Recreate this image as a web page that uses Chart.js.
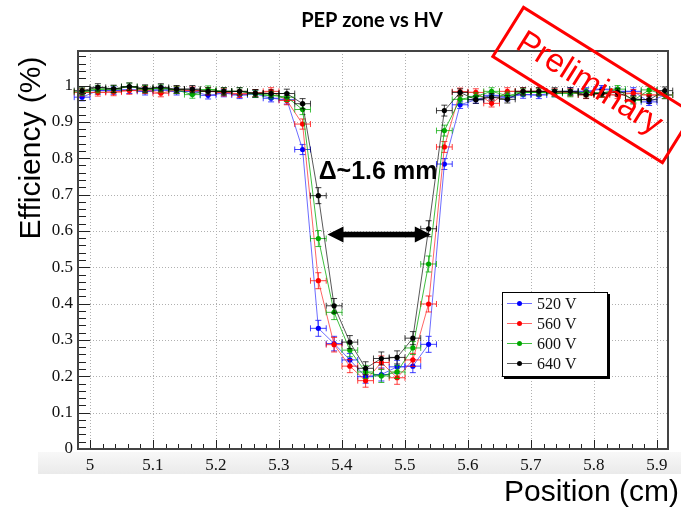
<!DOCTYPE html>
<html>
<head>
<meta charset="utf-8">
<script src="https://cdn.jsdelivr.net/npm/chart.js@4/dist/chart.umd.min.js"></script>
<style>
  html, body { margin: 0; padding: 0; background: #fff; }
  #wrap { width: 681px; height: 508px; }
</style>
</head>
<body>
<div id="wrap"><canvas id="c" width="681" height="508"></canvas></div>
<script>
// Bin centres along the strip (cm), bins are 0.025 cm wide
const positions = [4.9875, 5.0125, 5.0375, 5.0625, 5.0875, 5.1125, 5.1375, 5.1625, 5.1875, 5.2125,
  5.2375, 5.2625, 5.2875, 5.3125, 5.3375, 5.3625, 5.3875, 5.4125, 5.4375, 5.4625,
  5.4875, 5.5125, 5.5375, 5.5625, 5.5875, 5.6125, 5.6375, 5.6625, 5.6875, 5.7125,
  5.7375, 5.7625, 5.7875, 5.8125, 5.8375, 5.8625, 5.8875, 5.9125];
const binHalfWidth = 0.0125;

// Efficiency per bin for each HV setting
const eff520 = [0.968, 0.986, 0.986, 0.988, 0.984, 0.988, 0.984, 0.984, 0.973, 0.979,
  0.974, 0.977, 0.965, 0.961, 0.824, 0.332, 0.290, 0.245, 0.199, 0.205,
  0.226, 0.228, 0.288, 0.784, 0.947, 0.961, 0.973, 0.968, 0.975, 0.974,
  0.979, 0.984, 0.984, 0.990, 0.984, 0.984, 0.955, 0.974];
const eff560 = [0.981, 0.981, 0.982, 0.986, 0.988, 0.979, 0.988, 0.986, 0.984, 0.981,
  0.977, 0.979, 0.984, 0.959, 0.894, 0.463, 0.287, 0.228, 0.188, 0.238,
  0.196, 0.245, 0.399, 0.831, 0.983, 0.981, 0.951, 0.984, 0.984, 0.984,
  0.981, 0.981, 0.974, 0.977, 0.974, 0.979, 0.974, 0.974];
const eff600 = [0.983, 0.990, 0.990, 0.997, 0.990, 0.992, 0.988, 0.975, 0.989, 0.984,
  0.984, 0.977, 0.973, 0.968, 0.934, 0.579, 0.376, 0.272, 0.212, 0.201,
  0.212, 0.278, 0.509, 0.876, 0.962, 0.970, 0.984, 0.972, 0.981, 0.981,
  0.979, 0.979, 0.981, 0.979, 0.990, 0.959, 0.988, 0.974];
const eff640 = [0.986, 0.995, 0.991, 0.997, 0.992, 0.995, 0.990, 0.990, 0.984, 0.984,
  0.984, 0.979, 0.978, 0.978, 0.950, 0.697, 0.394, 0.294, 0.222, 0.249,
  0.252, 0.305, 0.606, 0.931, 0.981, 0.961, 0.968, 0.962, 0.984, 0.984,
  0.984, 0.984, 0.975, 0.979, 0.981, 0.962, 0.961, 0.986];

// Statistical uncertainty on the efficiency, per bin
const effErr = [0.010, 0.010, 0.010, 0.010, 0.010, 0.010, 0.010, 0.010, 0.010, 0.010,
  0.010, 0.010, 0.010, 0.012, 0.014, 0.022, 0.020, 0.018, 0.018, 0.018,
  0.018, 0.018, 0.022, 0.015, 0.010, 0.010, 0.010, 0.010, 0.010, 0.010,
  0.010, 0.010, 0.010, 0.010, 0.010, 0.010, 0.010, 0.010];

const seriesLabels = ['520 V', '560 V', '600 V', '640 V'];
const seriesColors = ['#0000ff', '#ff0000', '#00a800', '#000000'];
const lineColors = ['rgba(60,60,255,0.75)', 'rgba(255,50,50,0.75)', 'rgba(0,170,0,0.75)', 'rgba(0,0,0,0.65)'];
const seriesValues = [eff520, eff560, eff600, eff640];

// Axis ticks
const xTickValues = [5.0, 5.1, 5.2, 5.3, 5.4, 5.5, 5.6, 5.7, 5.8, 5.9];
const xTickLabels = ['5', '5.1', '5.2', '5.3', '5.4', '5.5', '5.6', '5.7', '5.8', '5.9'];
const yTickValues = [0, 0.1, 0.2, 0.3, 0.4, 0.5, 0.6, 0.7, 0.8, 0.9, 1.0];
const yTickLabels = ['0', '0.1', '0.2', '0.3', '0.4', '0.5', '0.6', '0.7', '0.8', '0.9', '1'];

// Width marker between the 50%-ish edges
const arrowFrom = 5.377;
const arrowTo = 5.541;
const arrowLevel = 0.59;
const widthLabel = 'Δ~1.6 mm';

const datasets = seriesValues.map((vals, k) => ({
  label: seriesLabels[k],
  data: positions.map((x, i) => ({ x: x, y: vals[i] })),
  borderColor: lineColors[k],
  backgroundColor: seriesColors[k],
  pointBackgroundColor: seriesColors[k],
  pointBorderColor: seriesColors[k],
  pointBorderWidth: 0,
  pointRadius: 2.6,
  borderWidth: 1,
  tension: 0,
  fill: false,
  errColor: seriesColors[k],
  order: 4 - k
}));

function drawErrorBars(chart, idx) {
  const ds = chart.data.datasets[idx];
  const xs = chart.scales.x, ys = chart.scales.y;
  const ctx = chart.ctx;
  ctx.save();
  ctx.strokeStyle = ds.errColor;
  ctx.globalAlpha = 0.75;
  ctx.lineWidth = 1;
  ctx.beginPath();
  ds.data.forEach((p, i) => {
    const px = xs.getPixelForValue(p.x), py = ys.getPixelForValue(p.y);
    const x0 = xs.getPixelForValue(p.x - binHalfWidth), x1 = xs.getPixelForValue(p.x + binHalfWidth);
    const y0 = ys.getPixelForValue(p.y - effErr[i]), y1 = ys.getPixelForValue(p.y + effErr[i]);
    ctx.moveTo(x0, py); ctx.lineTo(x1, py);
    ctx.moveTo(x0, py - 3); ctx.lineTo(x0, py + 3);
    ctx.moveTo(x1, py - 3); ctx.lineTo(x1, py + 3);
    ctx.moveTo(px, y0); ctx.lineTo(px, y1);
    ctx.moveTo(px - 3, y0); ctx.lineTo(px + 3, y0);
    ctx.moveTo(px - 3, y1); ctx.lineTo(px + 3, y1);
  });
  ctx.stroke();
  ctx.restore();
}

const decor = {
  id: 'decor',
  beforeDraw(chart) {
    const ctx = chart.ctx;
    ctx.save();
    ctx.fillStyle = '#ffffff';
    ctx.fillRect(0, 0, chart.width, chart.height);
    // soft grey band behind the x tick labels
    const g = ctx.createLinearGradient(0, 452, 0, 474);
    g.addColorStop(0, 'rgba(248,248,248,1)');
    g.addColorStop(1, 'rgba(234,234,234,1)');
    ctx.fillStyle = g;
    ctx.fillRect(38, 452, chart.width - 38, 22);
    ctx.restore();
  },
  beforeDatasetsDraw(chart) {
    const ctx = chart.ctx, a = chart.chartArea;
    const xs = chart.scales.x, ys = chart.scales.y;
    ctx.save();
    ctx.strokeStyle = '#b0b0b0';
    ctx.lineWidth = 1;
    ctx.setLineDash([1, 2]);
    ctx.beginPath();
    xTickValues.forEach(v => {
      const px = Math.round(xs.getPixelForValue(v)) + 0.5;
      ctx.moveTo(px, a.top); ctx.lineTo(px, a.bottom);
    });
    yTickValues.forEach(v => {
      if (v === 0) return;
      const py = Math.round(ys.getPixelForValue(v)) + 0.5;
      ctx.moveTo(a.left, py); ctx.lineTo(a.right, py);
    });
    ctx.stroke();
    ctx.restore();
  },
  beforeDatasetDraw(chart, args) {
    drawErrorBars(chart, args.index);
  },
  afterDatasetsDraw(chart) {
    const ctx = chart.ctx, a = chart.chartArea;
    const xs = chart.scales.x, ys = chart.scales.y;
    ctx.save();
    // axis ticks, drawn inward
    ctx.strokeStyle = '#222';
    ctx.lineWidth = 1;
    ctx.beginPath();
    for (let k = 0; k <= 54; k++) {
      const v = k * 0.02;
      if (v > ys.max) break;
      const py = Math.round(ys.getPixelForValue(v)) + 0.5;
      const len = (k % 5 === 0) ? 12 : 8;
      ctx.moveTo(a.left, py); ctx.lineTo(a.left + len, py);
    }
    for (let k = 249; k <= 296; k++) {
      const v = k * 0.02;
      if (v < xs.min || v > xs.max) continue;
      const px = Math.round(xs.getPixelForValue(v)) + 0.5;
      const len = (k % 5 === 0) ? 9 : 5;
      ctx.moveTo(px, a.bottom); ctx.lineTo(px, a.bottom - len);
    }
    ctx.stroke();
    // frame
    ctx.strokeStyle = '#444';
    ctx.lineWidth = 2;
    ctx.strokeRect(a.left, a.top, a.right - a.left, a.bottom - a.top);

    // double-headed width arrow
    const xa = xs.getPixelForValue(arrowFrom), xb = xs.getPixelForValue(arrowTo);
    const ya = ys.getPixelForValue(arrowLevel);
    ctx.fillStyle = '#000';
    ctx.fillRect(xa + 12, ya - 2.8, xb - xa - 24, 5.6);
    ctx.beginPath();
    ctx.moveTo(xa, ya); ctx.lineTo(xa + 16, ya - 8); ctx.lineTo(xa + 16, ya + 8); ctx.closePath();
    ctx.moveTo(xb, ya); ctx.lineTo(xb - 16, ya - 8); ctx.lineTo(xb - 16, ya + 8); ctx.closePath();
    ctx.fill();
    ctx.font = 'bold 25px "Liberation Sans", Arial, sans-serif';
    ctx.textAlign = 'center';
    ctx.textBaseline = 'alphabetic';
    ctx.fillText(widthLabel, 378, 179);
    ctx.restore();
  },
  afterDraw(chart) {
    const ctx = chart.ctx;
    ctx.save();
    // title
    ctx.fillStyle = '#000';
    ctx.font = 'bold 20px Lato, "Open Sans", sans-serif';
    ctx.textAlign = 'center';
    ctx.textBaseline = 'alphabetic';
    ctx.fillText('PEP zone vs HV', 372, 27);

    // axis titles
    ctx.font = '30px "Liberation Sans", Arial, sans-serif';
    ctx.textAlign = 'right';
    ctx.fillText('Position (cm)', 679, 501);
    ctx.save();
    ctx.translate(40, 148);
    ctx.rotate(-Math.PI / 2);
    ctx.textAlign = 'center';
    ctx.fillText('Efficiency (%)', 0, 0);
    ctx.restore();

    // legend box
    const lx = 502, ly = 292, lw = 105, lh = 84;
    ctx.fillStyle = '#000';
    ctx.fillRect(lx + 2, ly + 2, lw + 1, lh + 1);
    ctx.fillStyle = '#fff';
    ctx.fillRect(lx, ly, lw, lh);
    ctx.strokeStyle = '#000';
    ctx.lineWidth = 1;
    ctx.strokeRect(lx + 0.5, ly + 0.5, lw, lh);
    ctx.font = '16px "Liberation Serif", "Times New Roman", serif';
    ctx.textAlign = 'left';
    ctx.textBaseline = 'middle';
    seriesLabels.forEach((lab, k) => {
      const ry = ly + 11.5 + 20 * k;
      ctx.strokeStyle = lineColors[k];
      ctx.beginPath();
      ctx.moveTo(lx + 5, ry); ctx.lineTo(lx + 30, ry);
      ctx.stroke();
      ctx.fillStyle = seriesColors[k];
      ctx.beginPath();
      ctx.arc(lx + 17.5, ry, 2.5, 0, Math.PI * 2);
      ctx.fill();
      ctx.fillStyle = '#111';
      ctx.fillText(lab, lx + 35, ry + 1);
    });

    // "Preliminary" stamp
    ctx.save();
    ctx.translate(593, 85);
    ctx.rotate(32 * Math.PI / 180);
    ctx.strokeStyle = '#ff0000';
    ctx.lineWidth = 3;
    ctx.strokeRect(-100, -29, 200, 58);
    ctx.fillStyle = '#ff0000';
    ctx.font = '33px "Liberation Sans", Arial, sans-serif';
    ctx.textAlign = 'center';
    ctx.textBaseline = 'middle';
    ctx.fillText('Preliminary', -4, 1);
    ctx.restore();

    ctx.restore();
  }
};

new Chart(document.getElementById('c'), {
  type: 'line',
  data: { datasets: datasets },
  options: {
    responsive: false,
    animation: false,
    devicePixelRatio: 1,
    layout: { padding: { top: 51, right: 13, left: 0, bottom: 0 } },
    plugins: { legend: { display: false }, tooltip: { enabled: false }, title: { display: false } },
    scales: {
      x: {
        type: 'linear',
        min: 4.981,
        max: 5.9175,
        grid: { display: false, drawTicks: false },
        border: { display: false },
        afterBuildTicks: s => { s.ticks = xTickValues.map(v => ({ value: v })); },
        afterFit: s => { s.height = 59; },
        ticks: {
          padding: 6,
          maxRotation: 0,
          autoSkip: false,
          color: '#111',
          font: { family: '"Liberation Serif", "Times New Roman", serif', size: 17 },
          callback: (v, i) => xTickLabels[i]
        }
      },
      y: {
        type: 'linear',
        min: 0,
        max: 1.095,
        grid: { display: false, drawTicks: false },
        border: { display: false },
        afterBuildTicks: s => { s.ticks = yTickValues.map(v => ({ value: v })); },
        afterFit: s => { s.width = 78; },
        ticks: {
          padding: 5,
          autoSkip: false,
          color: '#111',
          font: { family: '"Liberation Serif", "Times New Roman", serif', size: 17 },
          callback: (v, i) => yTickLabels[i]
        }
      }
    }
  },
  plugins: [decor]
});
</script>
</body>
</html>
